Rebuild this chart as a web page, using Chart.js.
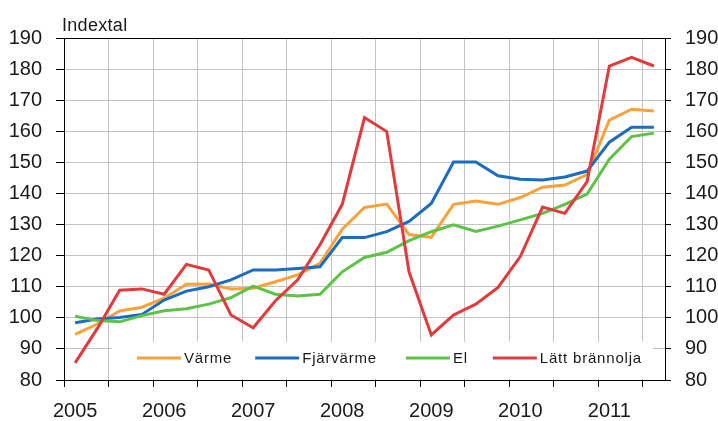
<!DOCTYPE html>
<html>
<head>
<meta charset="utf-8">
<script src="https://cdn.jsdelivr.net/npm/chart.js@4/dist/chart.umd.min.js"></script>
<style>
  html, body { margin: 0; padding: 0; background: #fff; }
  #wrap { width: 718px; height: 421px; }
</style>
</head>
<body>
<div id="wrap"><canvas id="line-chart"></canvas></div>
<script>
// kvartal 2005K1 - 2011K3
var quarters = [
	"2005K1", "2005K2", "2005K3", "2005K4", "2006K1", "2006K2", "2006K3", "2006K4",
	"2007K1", "2007K2", "2007K3", "2007K4", "2008K1", "2008K2", "2008K3", "2008K4",
	"2009K1", "2009K2", "2009K3", "2009K4", "2010K1", "2010K2", "2010K3", "2010K4",
	"2011K1", "2011K2", "2011K3"
];
var data_varme = [94.7, 98.0, 102.2, 103.4, 106.3, 110.8, 110.9, 109.3, 109.5, 111.6, 113.8, 117.5, 128.5, 135.5, 136.6, 126.8, 125.9, 136.5, 137.6, 136.5, 138.7, 142.0, 142.7, 146.1, 163.6, 167.1, 166.5];
var data_fjarrvarme = [98.4, 99.6, 100.1, 101.1, 105.7, 108.6, 110.0, 112.2, 115.4, 115.4, 115.9, 116.4, 125.8, 125.8, 127.7, 131.0, 136.8, 150.1, 150.1, 145.7, 144.6, 144.3, 145.3, 147.2, 156.5, 161.3, 161.3];
var data_el = [100.5, 99.1, 98.7, 100.7, 102.3, 102.9, 104.4, 106.5, 110.2, 107.6, 107.0, 107.6, 114.8, 119.4, 121.1, 124.8, 127.7, 129.9, 127.8, 129.5, 131.5, 133.6, 136.5, 139.8, 151.0, 158.3, 159.4];
var data_olja = [85.5, 96.6, 108.9, 109.3, 107.6, 117.2, 115.4, 100.9, 96.8, 105.5, 112.2, 123.5, 136.5, 164.4, 159.9, 114.8, 94.5, 100.9, 104.4, 109.8, 119.7, 135.6, 133.6, 143.8, 181.0, 183.8, 181.0];

var FONT = "'Liberation Sans', Arial, sans-serif";
var GRID = "#c4c4c4";
var TEXT = "#1a1a1a";

// legend inside the plot, on a white box
var boxLegend = {
	id: "boxLegend",
	beforeDatasetsDraw: function(chart) {
		var ctx = chart.ctx;
		var ca = chart.chartArea;
		ctx.save();
		ctx.fillStyle = "#fff";
		ctx.fillRect(ca.left + 48, ca.bottom - 38, ca.right - ca.left - 60, 37);

		var x = ca.left + 73;
		var y = ca.bottom - 22;
		ctx.font = "15px " + FONT;
		ctx.letterSpacing = "0.8px";
		ctx.textBaseline = "middle";
		ctx.fillStyle = TEXT;
		var gaps = [23, 29, 25, 0];
		chart.data.datasets.forEach(function(ds, i) {
			ctx.strokeStyle = ds.borderColor;
			ctx.lineWidth = 3;
			ctx.beginPath();
			ctx.moveTo(x, y);
			ctx.lineTo(x + 44, y);
			ctx.stroke();
			x += 47;
			ctx.fillText(ds.label, x, y + 1);
			x += ctx.measureText(ds.label).width + gaps[i];
		});
		ctx.restore();
	},
	afterDraw: function(chart) {
		var ctx = chart.ctx;
		var ca = chart.chartArea;
		ctx.save();
		// top frame line
		ctx.strokeStyle = "#000";
		ctx.lineWidth = 1;
		ctx.beginPath();
		ctx.moveTo(ca.left - 8, ca.top + 0.5);
		ctx.lineTo(ca.right, ca.top + 0.5);
		ctx.stroke();
		// unit title
		ctx.font = "18px " + FONT;
		ctx.letterSpacing = "0.3px";
		ctx.fillStyle = TEXT;
		ctx.textBaseline = "alphabetic";
		ctx.fillText("Indextal", ca.left - 2, 31);
		ctx.restore();
	}
};

new Chart(document.getElementById("line-chart"), {
	type: "line",
	data: {
		labels: quarters,
		datasets: [
			{ label: "Värme", borderColor: "#F7A23B", data: data_varme, order: 4 },
			{ label: "Fjärvärme", borderColor: "#1C6CC0", data: data_fjarrvarme, order: 3 },
			{ label: "El", borderColor: "#5DC245", data: data_el, order: 2 },
			{ label: "Lätt brännolja", borderColor: "#E23B3E", data: data_olja, order: 1 }
		]
	},
	options: {
		responsive: true,
		maintainAspectRatio: false,
		animation: false,
		layout: { padding: { top: 38, left: 0, right: 0, bottom: 0 } },
		elements: {
			line: { borderWidth: 3, tension: 0, fill: false },
			point: { radius: 0 }
		},
		plugins: {
			legend: { display: false },
			tooltip: { enabled: false }
		},
		scales: {
			x: {
				offset: true,
				grid: {
					offset: true,
					color: function(c) { return c.index % 2 === 0 ? GRID : "transparent"; },
					tickColor: function(c) { return c.index % 2 === 0 ? "#000" : "transparent"; },
					tickLength: 7
				},
				border: { color: "#000", width: 1 },
				ticks: {
					autoSkip: false,
					maxRotation: 0,
					padding: 12,
					color: TEXT,
					font: { family: FONT, size: 20 },
					callback: function(v, i) {
						var q = quarters[i];
						return q.slice(4) === "K1" ? q.slice(0, 4) : "";
					}
				},
				afterFit: function(s) { s.height = 41; }
			},
			y: {
				position: "left",
				min: 80,
				max: 190,
				grid: { color: GRID, tickColor: "#000", tickLength: 8 },
				border: { color: "#000", width: 1 },
				ticks: { stepSize: 10, padding: 14, color: TEXT, font: { family: FONT, size: 20 } },
				afterFit: function(s) { s.width = 64; }
			},
			y2: {
				position: "right",
				min: 80,
				max: 190,
				grid: { drawOnChartArea: false, tickColor: "#000", tickLength: 6 },
				border: { color: "#000", width: 1 },
				ticks: { stepSize: 10, padding: 14, color: TEXT, font: { family: FONT, size: 20 } },
				afterFit: function(s) { s.width = 53; }
			}
		}
	},
	plugins: [boxLegend]
});
</script>
</body>
</html>
